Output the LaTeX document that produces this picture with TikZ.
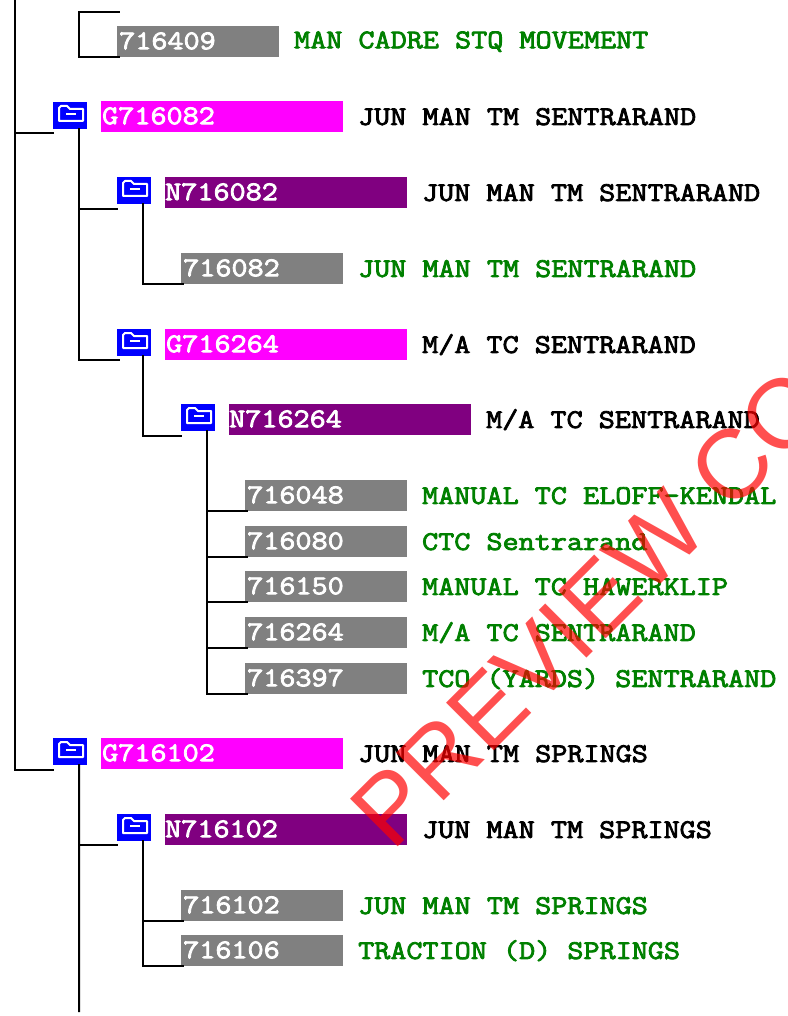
\documentclass[tikz,border=0pt]{standalone}
\usepackage{fontspec}
\setsansfont{Liberation Sans}
\newfontfamily\rowface[FakeStretch=1.158,FakeBold=3]{Latin Modern Mono}
\usetikzlibrary{positioning}
\definecolor{rowgreen}{RGB}{0,128,0}
\definecolor{rowgray}{RGB}{128,128,128}
\definecolor{rowmagenta}{RGB}{255,0,255}
\definecolor{rowpurple}{RGB}{128,0,128}
\definecolor{rowblue}{RGB}{0,0,255}
\newcommand{\rowfont}{\rowface\fontsize{27}{27}\selectfont}
\tikzset{
  tree/.style={line width=2pt,line cap=rect},
  codebox/.style={anchor=north west,minimum height=31pt,inner sep=0pt,text=white,text depth=0pt,font=\rowfont,align=left,text height=15pt},
  leafbox/.style={codebox,fill=rowgray,text width=162pt},
  groupbox/.style={codebox,fill=rowmagenta,text width=242pt},
  netbox/.style={codebox,fill=rowpurple,text width=242pt},
  darklabel/.style={right=14.5pt of #1,inner sep=0pt,font=\rowfont,text=black},
  leaflabel/.style={right=14.5pt of #1,inner sep=0pt,font=\rowfont,text=rowgreen},
  iconbox/.style={anchor=north west,fill=rowblue,minimum width=34pt,minimum height=27pt,inner sep=0pt},
  glyph/.style={draw=white,line width=2pt}
}
% one folder button, #1 is the name, (#2,#3) the top left corner
\newcommand{\foldernode}[3]{
  \node[iconbox] (#1) at (#2,#3) {};
  \draw[glyph,line join=round] ([xshift=6pt,yshift=-19pt]#1.north west) -- ++(0,-13) -- ++(2,-2) -- ++(6,0) -- ++(3,3) -- ++(13,0) -- ++(0,12) -- cycle;
  \draw[glyph] ([xshift=13pt,yshift=-12pt]#1.north west) -- ++(10,0);
}
\begin{document}
\begin{tikzpicture}[x=1pt,y=-1pt]
  \useasboundingbox (0,0) rectangle (787,1016);

  % bars
  \node[leafbox] (a) at (117,26) {\hspace*{2pt}716409};
  \node[leaflabel=a] (at) {MAN CADRE STQ MOVEMENT};
  \node[groupbox] (b) at (101,101) {\hspace*{1pt}G716082};
  \node[darklabel=b] (bt) {JUN MAN TM SENTRARAND};
  \node[netbox] (c) at (165,177) {N716082};
  \node[darklabel=c] (ct) {JUN MAN TM SENTRARAND};
  \node[leafbox] (d) at (181,253) {\hspace*{2pt}716082};
  \node[leaflabel=d] (dt) {JUN MAN TM SENTRARAND};
  \node[groupbox] (e) at (165,329) {\hspace*{1pt}G716264};
  \node[darklabel=e] (et) {M/A TC SENTRARAND};
  \node[netbox] (f) at (229,404) {N716264};
  \node[darklabel=f] (ft) {M/A TC SENTRARAND};
  \node[leafbox] (g) at (245,480) {\hspace*{2pt}716048};
  \node[leaflabel=g] (gt) {MANUAL TC ELOFF-KENDAL};
  \node[leafbox] (h) at (245,526) {\hspace*{2pt}716080};
  \node[leaflabel=h] (ht) {CTC Sentrarand};
  \node[leafbox] (i) at (245,571) {\hspace*{2pt}716150};
  \node[leaflabel=i] (it) {MANUAL TC HAWERKLIP};
  \node[leafbox] (j) at (245,617) {\hspace*{2pt}716264};
  \node[leaflabel=j] (jt) {M/A TC SENTRARAND};
  \node[leafbox] (k) at (245,663) {\hspace*{2pt}716397};
  \node[leaflabel=k] (kt) {TCO (YARDS) SENTRARAND};
  \node[groupbox] (l) at (101,738) {\hspace*{1pt}G716102};
  \node[darklabel=l] (lt) {JUN MAN TM SPRINGS};
  \node[netbox] (m) at (165,814) {N716102};
  \node[darklabel=m] (mt) {JUN MAN TM SPRINGS};
  \node[leafbox] (n) at (181,890) {\hspace*{2pt}716102};
  \node[leaflabel=n] (nt) {JUN MAN TM SPRINGS};
  \node[leafbox] (o) at (181,935) {\hspace*{2pt}716106};
  \node[leaflabel=o] (ot) {TRACTION (D) SPRINGS};

  % folder buttons
  \foldernode{ib}{53}{102}
  \foldernode{ic}{117}{177}
  \foldernode{ie}{117}{329}
  \foldernode{if}{181}{404}
  \foldernode{il}{53}{738}
  \foldernode{im}{117}{814}

  % tree lines
  \coordinate (top) at (15,1);
  \coordinate (topa) at (79,12);
  \coordinate (topb) at (119,12);
  \coordinate (endl) at (79,1011);
  \draw[tree] (top) |- ([yshift=-4pt]ib.south west);
  \draw[tree] (top) |- ([yshift=-5pt]il.south west);
  \draw[tree] (topb) -- (topa) |- ([xshift=2pt]a.south west);
  \draw[tree] (ib.south -| topa) |- ([yshift=-5pt]ic.south west);
  \draw[tree] (ib.south -| topa) |- ([xshift=2pt]e.south west -| ie.west);
  \draw[tree] (ic.south) ++(9,0) |- ([xshift=2pt]d.south west);
  \draw[tree] (ie.south) ++(9,0) |- ([yshift=-5pt]if.south west);
  \draw[tree] (if.south) ++(9,0) |- ([xshift=2pt]g.south west);
  \draw[tree] (if.south) ++(9,0) |- ([xshift=2pt]h.south west);
  \draw[tree] (if.south) ++(9,0) |- ([xshift=2pt]i.south west);
  \draw[tree] (if.south) ++(9,0) |- ([xshift=2pt]j.south west);
  \draw[tree] (if.south) ++(9,0) |- ([xshift=2pt]k.south west);
  \draw[tree] (il.south) ++(9,0) -- (endl);
  \draw[tree] (il.south -| endl) |- ([yshift=-4pt]im.south west);
  \draw[tree] (im.south) ++(9,0) |- ([xshift=2pt]n.south west);
  \draw[tree] (im.south) ++(9,0) |- ([xshift=2pt]o.south west);

  % watermark
  \begin{scope}
    \clip (0,0) rectangle (787,1016);
    \node[rotate=45,anchor=base west,inner sep=0pt,text=red,opacity=.69,font=\sffamily\fontsize{98}{98}\selectfont] (wm) at (392,853) {PREVIEW CO};
  \end{scope}
\end{tikzpicture}
\end{document}
